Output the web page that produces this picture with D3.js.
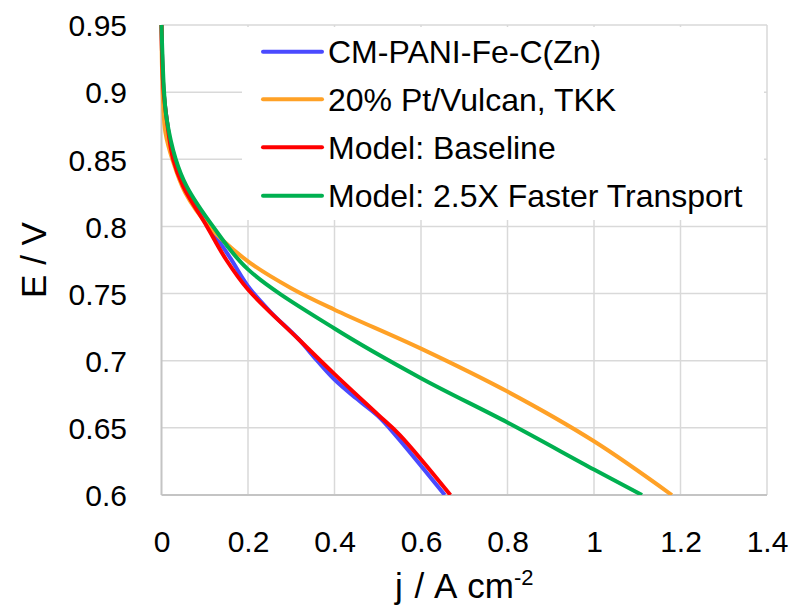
<!DOCTYPE html>
<html>
<head>
<meta charset="utf-8">
<script src="https://cdn.jsdelivr.net/npm/d3@7"></script>
<style>
  html, body { margin: 0; padding: 0; background: #fff; }
  svg { display: block; }
  text { font-family: "Liberation Sans", Arial, sans-serif; fill: #000; }
</style>
</head>
<body>
<svg id="chart" width="792" height="605"></svg>
<script>
// ---- data ----
const seriesNames = ["CM-PANI-Fe-C(Zn)", "20% Pt/Vulcan, TKK", "Model: Baseline", "Model: 2.5X Faster Transport"];
const seriesColors = ["#4a4aff", "#ffa126", "#ff0000", "#00b050"];

const pani_j = [0, 0.002, 0.005, 0.012, 0.028, 0.055, 0.11, 0.16, 0.2, 0.25, 0.317, 0.36, 0.4, 0.45, 0.5, 0.54, 0.655];
const pani_E = [0.95, 0.92, 0.90, 0.88, 0.85, 0.83, 0.80, 0.776, 0.7555, 0.737, 0.716, 0.700, 0.686, 0.672, 0.659, 0.645, 0.60];

const pt_j = [0, 0.001, 0.004, 0.009, 0.025, 0.055, 0.11, 0.2, 0.3, 0.4, 0.6, 0.8, 1.0, 1.18];
const pt_E = [0.95, 0.92, 0.89, 0.87, 0.85, 0.825, 0.80, 0.774, 0.754, 0.738, 0.709, 0.677, 0.640, 0.60];

const base_j = [0, 0.002, 0.005, 0.012, 0.027, 0.05, 0.105, 0.15, 0.2, 0.317, 0.4, 0.5, 0.55, 0.668];
const base_E = [0.95, 0.92, 0.90, 0.88, 0.85, 0.83, 0.80, 0.775, 0.753, 0.716, 0.69, 0.66, 0.645, 0.60];

const fast_j = [0, 0.003, 0.006, 0.012, 0.033, 0.058, 0.119, 0.2, 0.4, 0.6, 0.8, 1.0, 1.111];
const fast_E = [0.95, 0.92, 0.90, 0.88, 0.85, 0.83, 0.80, 0.768, 0.724, 0.687, 0.654, 0.619, 0.60];

const xTicks = [0, 0.2, 0.4, 0.6, 0.8, 1, 1.2, 1.4];
const yTicks = [0.6, 0.65, 0.7, 0.75, 0.8, 0.85, 0.9, 0.95];
const xTitle = "j / A cm";
const xTitleSup = "-2";
const yTitle = "E / V";

// ---- chart ----
const svg = d3.select("#chart");
const pL = 161.5, pR = 767, pT = 25, pB = 495;
const x = d3.scaleLinear().domain([0, 1.4]).range([pL, pR]);
const y = d3.scaleLinear().domain([0.6, 0.95]).range([pB, pT]);

const series = [
  { name: seriesNames[0], color: seriesColors[0], j: pani_j, E: pani_E },
  { name: seriesNames[1], color: seriesColors[1], j: pt_j, E: pt_E },
  { name: seriesNames[2], color: seriesColors[2], j: base_j, E: base_E },
  { name: seriesNames[3], color: seriesColors[3], j: fast_j, E: fast_E }
];

// gridlines
const grid = svg.append("g");
grid.selectAll("line.h").data(yTicks.filter(d => d > 0.6)).enter().append("line")
  .attr("x1", pL).attr("x2", pR)
  .attr("y1", d => y(d)).attr("y2", d => y(d))
  .attr("stroke", "#d9d9d9").attr("stroke-width", 1.5);
grid.selectAll("line.v").data(xTicks.filter(d => d > 0)).enter().append("line")
  .attr("x1", d => x(d)).attr("x2", d => x(d))
  .attr("y1", pT).attr("y2", pB)
  .attr("stroke", "#d9d9d9").attr("stroke-width", 1.5);

// legend background (covers gridlines)
svg.append("rect").attr("x", 242).attr("y", 27).attr("width", 522).attr("height", 193).attr("fill", "#fff");

// axes lines
svg.append("line").attr("x1", pL).attr("x2", pL).attr("y1", pT).attr("y2", pB)
  .attr("stroke", "#c4c4c4").attr("stroke-width", 2);
svg.append("line").attr("x1", pL).attr("x2", pR).attr("y1", pB).attr("y2", pB)
  .attr("stroke", "#c4c4c4").attr("stroke-width", 2);

// axis tick labels via d3 axes
const xAxis = d3.axisBottom(x).tickValues(xTicks).tickSize(0).tickPadding(0)
  .tickFormat(d => String(+d.toFixed(1)));
const gx = svg.append("g").attr("transform", `translate(0,${pB})`).call(xAxis);
gx.select(".domain").remove();
gx.selectAll("text").attr("font-size", 30).attr("dy", null).attr("y", 57)
  .attr("font-family", "Liberation Sans, Arial, sans-serif").attr("fill", "#000");

const yAxis = d3.axisLeft(y).tickValues(yTicks).tickSize(0).tickPadding(0)
  .tickFormat(d => String(+d.toFixed(2)));
const gy = svg.append("g").attr("transform", `translate(127,0)`).call(yAxis);
gy.select(".domain").remove();
gy.selectAll("text").attr("font-size", 30).attr("dy", "0.36em").attr("x", 0)
  .attr("font-family", "Liberation Sans, Arial, sans-serif").attr("fill", "#000");

// titles
const xt = svg.append("text").attr("x", (pL + pR) / 2).attr("y", 598)
  .attr("text-anchor", "middle").attr("font-size", 35).attr("word-spacing", 2);
xt.append("tspan").text(xTitle);
xt.append("tspan").attr("font-size", 22).attr("dy", -13).text(xTitleSup);

svg.append("text").attr("transform", `translate(46,${(pT + pB) / 2}) rotate(-90)`)
  .attr("text-anchor", "middle").attr("font-size", 35).text(yTitle);

// lines
svg.append("clipPath").attr("id", "clip").append("rect")
  .attr("x", pL - 4).attr("y", pT - 4).attr("width", pR - pL + 8).attr("height", pB - pT + 4);
const line = d3.line().curve(d3.curveCatmullRom.alpha(0.5));
const lg = svg.append("g").attr("clip-path", "url(#clip)");
series.forEach(s => {
  const pts = s.j.map((v, i) => [x(v), y(s.E[i])]);
  lg.append("path").attr("d", line(pts)).attr("fill", "none")
    .attr("stroke", s.color).attr("stroke-width", 4).attr("stroke-linejoin", "round");
});

// legend
const legY = [51.7, 99.3, 147.3, 195.7];
series.forEach((s, i) => {
  svg.append("line").attr("x1", 263).attr("x2", 322).attr("y1", legY[i]).attr("y2", legY[i])
    .attr("stroke", s.color).attr("stroke-width", 4).attr("stroke-linecap", "round");
  svg.append("text").attr("x", 328).attr("y", legY[i] + 11.5).attr("font-size", 32).text(s.name);
});
</script>
</body>
</html>
